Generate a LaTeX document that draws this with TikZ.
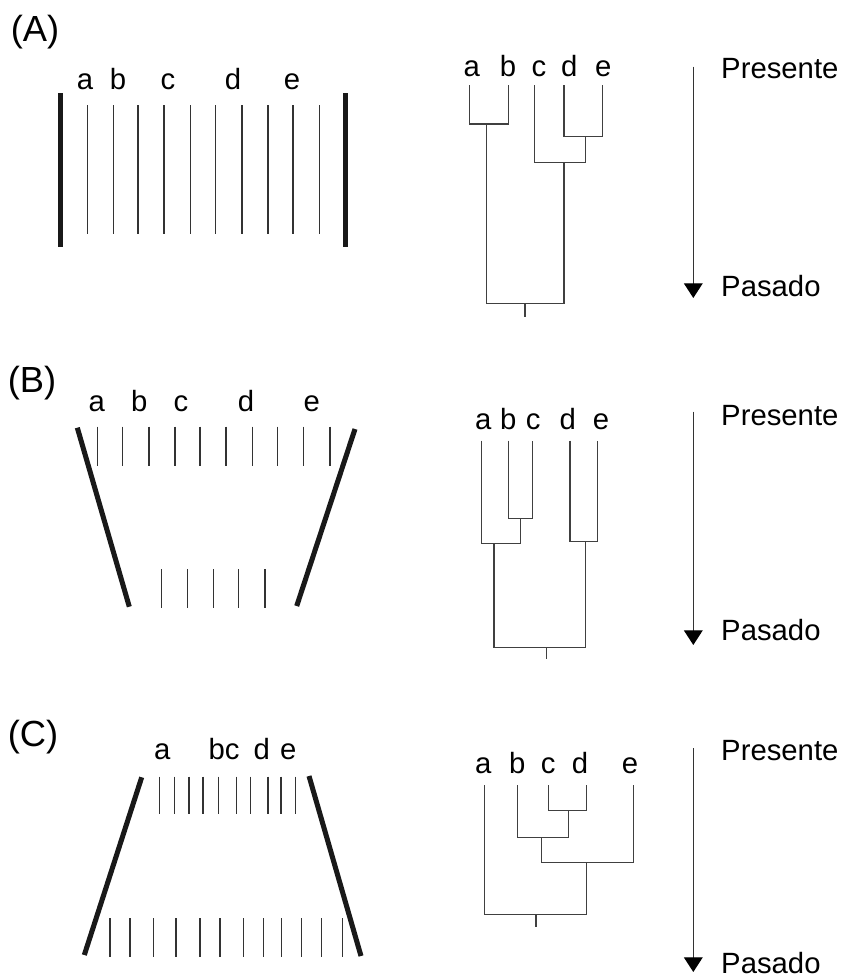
\documentclass[tikz,border=0pt]{standalone}
\usepackage{fontspec}
\setmainfont{Liberation Sans}
\usetikzlibrary{arrows.meta}
\begin{document}
\begin{tikzpicture}[x=0.03cm,y=-0.03cm,
  lbl/.style={font=\fontsize{25}{29}\selectfont, inner sep=0, anchor=base},
  panel/.style={font=\fontsize{31}{36}\selectfont, inner sep=0},
  timelbl/.style={font=\fontsize{25}{29}\selectfont, inner sep=0, anchor=base west},
  thinline/.style={line width=1.2pt, draw=black!80},
  bar/.style={line width=4.3pt, draw=black!90},
  tree/.style={line width=1.2pt, draw=black!75},
  timearrow/.style={line width=1.1pt, draw=black!80, -{Triangle[length=0.44cm,width=0.56cm,fill=black,color=black]}}
]
\useasboundingbox (0,0) rectangle (843,978);

% ---------------- Panel A ----------------
\node[panel] (pA) at (35,32) {(A)};
\draw[bar] (60.7,93) -- (60.7,247);
\draw[bar] (345.7,93) -- (345.7,247);
\foreach \x in {87.3,113.3,138,164,190.7,215.3,242,268,293,319.3}
  \draw[thinline] (\x,105) -- (\x,234);
\node[lbl] (Ala) at (85,89) {a};
\node[lbl] (Alb) at (118,89) {b};
\node[lbl] (Alc) at (168,89) {c};
\node[lbl] (Ald) at (233,89) {d};
\node[lbl] (Ale) at (292,89) {e};

\node[lbl] (Ata) at (471.7,76) {a};
\node[lbl] (Atb) at (508,76) {b};
\node[lbl] (Atc) at (539,76) {c};
\node[lbl] (Atd) at (569.3,76) {d};
\node[lbl] (Ate) at (603.3,76) {e};
\draw[tree] (469.3,85) -- (469.3,124) -- (508.3,124) -- (508.3,85);
\draw[tree] (564,85) -- (564,136.7) -- (602.7,136.7) -- (602.7,85);
\draw[tree] (534.3,85) -- (534.3,162.7) -- (585.3,162.7) -- (585.3,136.7);
\draw[tree] (486.3,124) -- (486.3,303.3) -- (564,303.3) -- (564,162.7);
\draw[tree] (525,303.3) -- (525,317.3);

\coordinate (Aa1) at (693.3,66.7);
\coordinate (Aa2) at (693.3,298);
\draw[timearrow] (Aa1) -- (Aa2);
\node[timelbl] (Apres) at (721,78.3) {Presente};
\node[timelbl] (Apas) at (721,296.7) {Pasado};

% ---------------- Panel B ----------------
\node[panel] (pB) at (32,383) {(B)};
\draw[bar] (77.3,427.7) -- (129.3,606.7);
\draw[bar] (355,429) -- (296.7,606);
\foreach \x in {97.7,122.7,149,175,200,226,252.3,277.3,303.3,330}
  \draw[thinline] (\x,426.7) -- (\x,466);
\foreach \x in {161.3,187.3,213.7,238.3,265}
  \draw[thinline] (\x,569.3) -- (\x,608.3);
\node[lbl] (Bla) at (96.7,411) {a};
\node[lbl] (Blb) at (139.3,411) {b};
\node[lbl] (Blc) at (181,411) {c};
\node[lbl] (Bld) at (246,411) {d};
\node[lbl] (Ble) at (311.7,411) {e};

\node[lbl] (Bta) at (483.3,429.3) {a};
\node[lbl] (Btb) at (508.3,429.3) {b};
\node[lbl] (Btc) at (533.3,429.3) {c};
\node[lbl] (Btd) at (567.7,429.3) {d};
\node[lbl] (Bte) at (601,429.3) {e};
\draw[tree] (508.3,440.7) -- (508.3,518.3) -- (532.7,518.3) -- (532.7,440.7);
\draw[tree] (481.7,440.7) -- (481.7,543.3) -- (520.3,543.3) -- (520.3,518.3);
\draw[tree] (570,440.7) -- (570,541.7) -- (597.3,541.7) -- (597.3,440.7);
\draw[tree] (494,543.3) -- (494,647.3) -- (585.3,647.3) -- (585.3,541.7);
\draw[tree] (546.7,647.3) -- (546.7,659.3);

\coordinate (Ba1) at (693.3,411.7);
\coordinate (Ba2) at (693.3,645);
\draw[timearrow] (Ba1) -- (Ba2);
\node[timelbl] (Bpres) at (721,425) {Presente};
\node[timelbl] (Bpas) at (721,640) {Pasado};

% ---------------- Panel C ----------------
\node[panel] (pC) at (33,737) {(C)};
\draw[bar] (141.7,777.3) -- (84.3,955);
\draw[bar] (309,776) -- (361,956);
\foreach \x in {159.3,174.7,189,203,218.7,236.7,250.7,268,281,295.7}
  \draw[thinline] (\x,776.7) -- (\x,814.3);
\foreach \x in {110,130,153.3,176,200,220,243.3,263.3,281.7,301.7,321.7,342.3}
  \draw[thinline] (\x,918.3) -- (\x,956.7);
\node[lbl] (Cla) at (162.3,759.3) {a};
\node[lbl] (Clbc) at (224,759.3) {bc};
\node[lbl] (Cld) at (261.7,759.3) {d};
\node[lbl] (Cle) at (288.3,759.3) {e};

\node[lbl] (Cta) at (483.3,773.3) {a};
\node[lbl] (Ctb) at (517.3,773.3) {b};
\node[lbl] (Ctc) at (548.3,773.3) {c};
\node[lbl] (Ctd) at (580,773.3) {d};
\node[lbl] (Cte) at (630,773.3) {e};
\draw[tree] (548.3,785) -- (548.3,810.7) -- (586.7,810.7) -- (586.7,785);
\draw[tree] (517.3,785) -- (517.3,837.3) -- (568.3,837.3) -- (568.3,810.7);
\draw[tree] (541.7,837.3) -- (541.7,862.3) -- (633.3,862.3) -- (633.3,785);
\draw[tree] (484.3,785) -- (484.3,914.3) -- (586.7,914.3) -- (586.7,862.3);
\draw[tree] (536,914.3) -- (536,927.3);

\coordinate (Ca1) at (693.3,748.3);
\coordinate (Ca2) at (693.3,972);
\draw[timearrow] (Ca1) -- (Ca2);
\node[timelbl] (Cpres) at (721,760) {Presente};
\node[timelbl] (Cpas) at (721,973) {Pasado};
\end{tikzpicture}
\end{document}
